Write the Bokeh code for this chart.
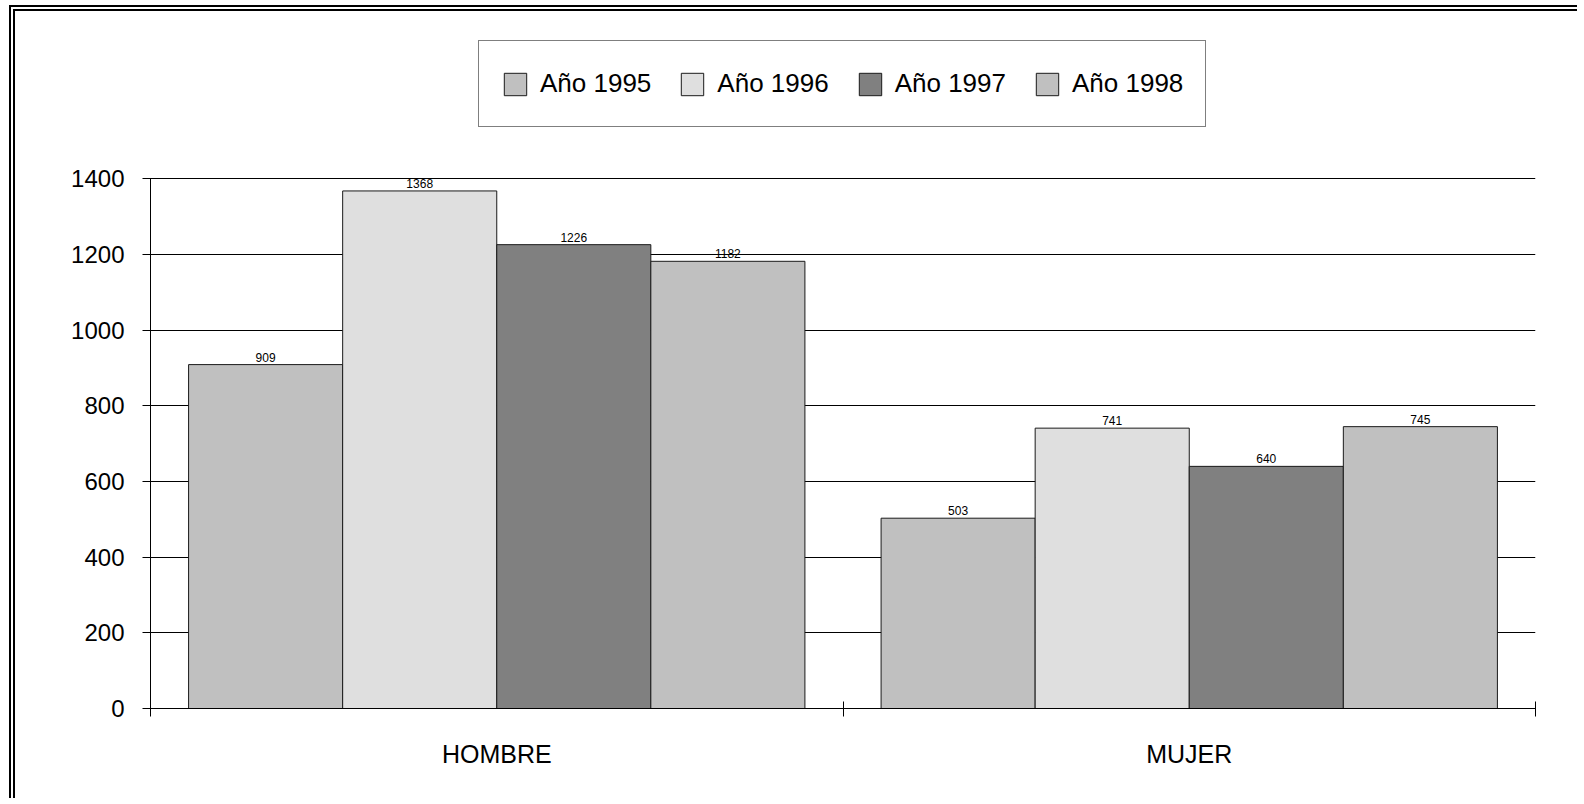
from bokeh.plotting import figure
from bokeh.models import (ColumnDataSource, Range1d, FixedTicker, Legend, LegendItem,
                          LabelSet)
from bokeh.core.properties import value
from bokeh.embed import file_html
from bokeh.resources import INLINE

categories = ["HOMBRE", "MUJER"]
years = ["Año 1995", "Año 1996", "Año 1997", "Año 1998"]
v1995 = [909, 503]
v1996 = [1368, 741]
v1997 = [1226, 640]
v1998 = [1182, 745]
y_ticks = [0, 200, 400, 600, 800, 1000, 1200, 1400]

series = [v1995, v1996, v1997, v1998]
colors = ["#C0C0C0", "#DFDFDF", "#808080", "#C0C0C0"]
FONT = "Liberation Sans"
bar_w = 0.2225

# frame extends above the value axis to leave room for the legend
p = figure(width=1568, height=793, output_backend="svg", toolbar_location=None,
           x_range=Range1d(0, len(categories)), y_range=Range1d(0, 1800),
           min_border_left=135, min_border_right=48, min_border_top=16,
           min_border_bottom=96)
p.margin = (5, 0, 0, 9)
p.styles = {"border-left": "6px double black", "border-top": "6px double black"}
p.outline_line_color = None
p.background_fill_color = "white"
p.border_fill_color = "white"

items = []
for j, (vals, col, yr) in enumerate(zip(series, colors, years)):
    xs = [i + 0.5 + (j - 1.5) * bar_w for i in range(len(categories))]
    src = ColumnDataSource(dict(x=xs, top=vals, lab=[str(v) for v in vals]))
    r = p.vbar(x="x", top="top", width=bar_w, bottom=0, source=src,
               fill_color=col, line_color="#1a1a1a", line_width=1)
    items.append(LegendItem(label=yr, renderers=[r]))
    lbl = LabelSet(x="x", y="top", text="lab", source=src, text_align="center",
                   text_baseline="bottom", y_offset=3, text_font=value(FONT),
                   text_font_size="12px", text_color="black")
    p.add_layout(lbl)

# axes
p.xgrid.grid_line_color = None
p.ygrid.grid_line_color = "black"
p.ygrid.grid_line_width = 1
p.ygrid.bounds = (y_ticks[0], y_ticks[-1])
p.yaxis.bounds = (y_ticks[0], y_ticks[-1])
p.yaxis.ticker = FixedTicker(ticks=y_ticks)
p.yaxis.major_tick_in = 7
p.yaxis.major_tick_out = 8
p.yaxis.minor_tick_line_color = None
p.yaxis.major_label_standoff = 18
p.yaxis.major_label_text_font = FONT
p.yaxis.major_label_text_font_size = "24px"
p.yaxis.major_label_text_color = "black"
p.yaxis.axis_line_color = "black"
p.yaxis.major_tick_line_color = "black"

p.xaxis.ticker = FixedTicker(ticks=[i + 0.5 for i in range(len(categories))],
                             minor_ticks=list(range(len(categories) + 1)))
p.xaxis.major_label_overrides = {i + 0.5: c for i, c in enumerate(categories)}
p.xaxis.major_tick_in = 0
p.xaxis.major_tick_out = 0
p.xaxis.minor_tick_in = 7
p.xaxis.minor_tick_out = 8
p.xaxis.minor_tick_line_color = "black"
p.xaxis.major_label_standoff = 23
p.xaxis.major_label_text_font = FONT
p.xaxis.major_label_text_font_size = "25px"
p.xaxis.major_label_text_color = "black"
p.xaxis.axis_line_color = "black"

legend = Legend(items=items, orientation="horizontal", location=(328, 581),
                glyph_width=28, glyph_height=28, label_standoff=11, spacing=27,
                padding=22, label_height=41, margin=0,
                label_text_font=FONT, label_text_font_size="26px",
                label_text_color="black", border_line_color="black",
                border_line_width=1, background_fill_color="white",
                background_fill_alpha=1)
p.add_layout(legend, "center")

open("out.html", "w").write(file_html(p, INLINE))
